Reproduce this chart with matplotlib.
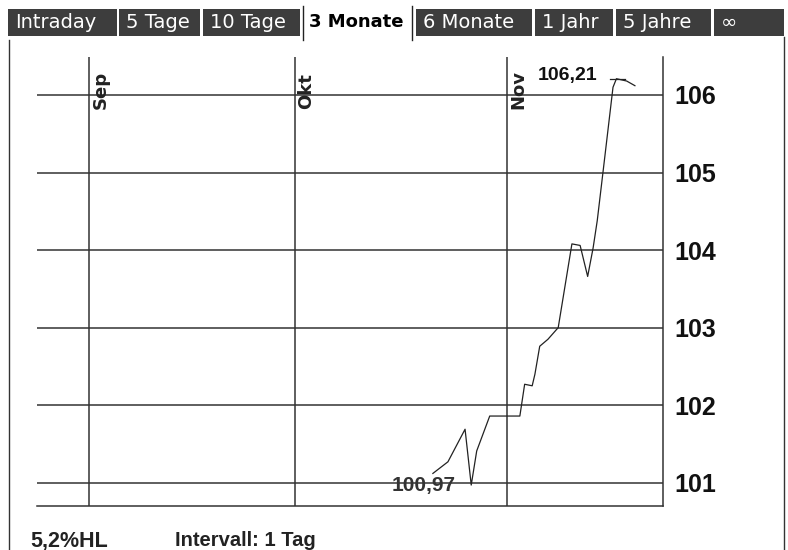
import matplotlib
matplotlib.use("Agg")
import matplotlib.pyplot as plt
from matplotlib.patches import Rectangle

# ---- data ----
tabs = ["Intraday", "5 Tage", "10 Tage", "3 Monate", "6 Monate", "1 Jahr", "5 Jahre", "∞"]
active_tab = "3 Monate"
month_labels = ["Sep", "Okt", "Nov"]
month_days = [0, 30, 61]          # days since 1 Sep
y_ticks = [101, 102, 103, 104, 105, 106]
days = [50.2, 52.4, 54.9, 55.8, 56.6, 58.5, 62.9, 63.6, 64.7, 65.1, 65.8, 67.0,
        68.5, 70.5, 71.7, 72.8, 73.6, 74.2, 75.3, 76.5, 77.0, 78.5, 79.7]
prices = [101.12, 101.27, 101.69, 100.97, 101.41, 101.86, 101.86, 102.27, 102.25,
          102.40, 102.76, 102.85, 103.00, 104.08, 104.06, 103.66, 104.03, 104.38,
          105.20, 106.10, 106.21, 106.18, 106.12]
min_label = "100,97"
max_label = "106,21"
footer_left = "5,2%HL"
footer_right = "Intervall: 1 Tag"

W, H = 788, 550
fig = plt.figure(figsize=(W / 100, H / 100), dpi=100)
fig.patch.set_facecolor("white")

# ---- overlay in pixel coords ----
ov = fig.add_axes([0, 0, 1, 1])
ov.set_xlim(0, W)
ov.set_ylim(H, 0)
ov.axis("off")

tab_x = [(8, 117), (119, 200), (203, 300), (303, 412), (416, 532), (535, 613), (616, 711), (714, 784)]
for name, (x0, x1) in zip(tabs, tab_x):
    if name == active_tab:
        ov.plot([x0, x0], [6, 40], color="#222222", lw=1.0)
        ov.plot([x1, x1], [6, 40], color="#222222", lw=1.0)
        ov.text(x0 + 6, 22, name, color="black", fontsize=13, fontweight="bold",
                ha="left", va="center", family="DejaVu Sans")
    else:
        ov.add_patch(Rectangle((x0, 9), x1 - x0, 27, facecolor="#3d3d3d", edgecolor="none"))
        ov.text(x0 + 7, 22.5, name, color="white", fontsize=14,
                ha="left", va="center", family="DejaVu Sans")

# outer border lines
ov.plot([9, 9], [40, H], color="#333333", lw=1.0)
ov.plot([784, 784], [37, H], color="#333333", lw=1.0)

ov.text(30, 541, footer_left, fontsize=15.5, fontweight="bold", color="#222222",
        ha="left", va="center", family="Liberation Sans")
ov.text(175, 541, footer_right, fontsize=14.5, fontweight="bold", color="#222222",
        ha="left", va="center", family="Liberation Sans")

# ---- chart axes ----
left, right, top, bottom = 37, 663, 57, 506
ax = fig.add_axes([left / W, (H - bottom) / H, (right - left) / W, (bottom - top) / H])
ax.set_facecolor("none")
ax.set_xlim(-7.6, 83.8)
ax.set_ylim(100.70, 106.49)

for s in ["left", "top"]:
    ax.spines[s].set_visible(False)
for s in ["right", "bottom"]:
    ax.spines[s].set_color("#333333")
    ax.spines[s].set_linewidth(1.1)

for yv in y_ticks:
    ax.axhline(yv, color="#333333", lw=1.1, zorder=1)
for d in month_days:
    ax.axvline(d, color="#333333", lw=1.1, zorder=1)

ax.set_xticks([])
ax.yaxis.tick_right()
ax.set_yticks(y_ticks)
ax.set_yticklabels([str(v) for v in y_ticks])
ax.tick_params(axis="y", length=0, pad=8)
for lab in ax.get_yticklabels():
    lab.set_fontsize(18)
    lab.set_fontweight("bold")
    lab.set_family("Liberation Sans")
    lab.set_color("#111111")

for d, lab in zip(month_days, month_labels):
    ax.text(d + 0.4, 0.885, lab, rotation=90, transform=ax.get_xaxis_transform(),
            ha="left", va="bottom", fontsize=13, fontweight="bold", color="#222222",
            family="DejaVu Sans")

ax.plot(days, prices, color="#222222", lw=0.9, zorder=3)

# min / max annotations
imin = prices.index(min(prices))
imax = prices.index(max(prices))
ax.annotate(min_label, xy=(days[imin], prices[imin]), xytext=(-11, 0),
            textcoords="offset points", ha="right", va="center", fontsize=15,
            fontweight="bold", color="#333333", family="Liberation Sans")
ax.annotate(max_label, xy=(days[imax], prices[imax]), xytext=(-14, 2),
            textcoords="offset points", ha="right", va="center", fontsize=14,
            fontweight="bold", color="#111111", family="Liberation Sans")
ax.plot([days[imax] - 1.0, days[imax] + 1.2], [prices[imax], prices[imax]],
        color="#222222", lw=0.9, zorder=3)

fig.savefig("out.png", dpi=100, facecolor="white")
